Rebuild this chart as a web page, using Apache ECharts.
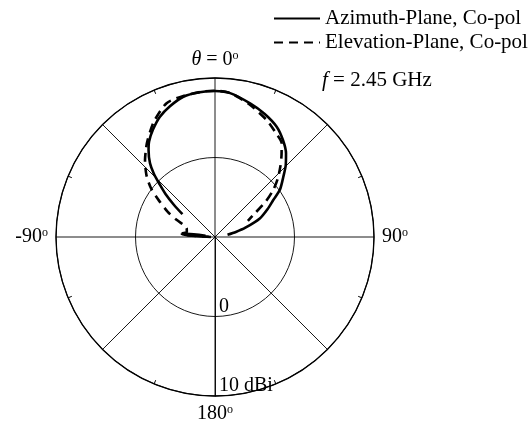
<!DOCTYPE html>
<html><head><meta charset="utf-8">
<script src="https://cdn.jsdelivr.net/npm/echarts@6/dist/echarts.min.js"></script>
<style>html,body{margin:0;padding:0;background:#fff}#c{width:531px;height:421px}</style>
</head><body><div id="c"></div>
<script>
// ---- data (angle in degrees, gain in dBi; null = no trace drawn) ----
const seriesNames = ['Azimuth-Plane, Co-pol', 'Elevation-Plane, Co-pol'];
const azTheta = [-88, -86.5, -85, -83.5, -82, -70, -55, -52, -49, -46.5, -44, -41.4, -37.4, -34.6, -30, -24.6, -19, -12.7, -6, 0, 6, 14.7, 22, 29.2, 35, 40.3, 44.5, 48.6, 54, 57.6, 62, 67.5, 73, 76.5, 80];
const azGain  = [-9.2, -6.6, -5.8, -6.4, -8.8, null, -5.0, -3.46, -1.75, -0.44, 1.07, 2.36, 3.76, 4.6, 5.6, 6.64, 7.4, 8.09, 8.3, 8.36, 8.2, 7.38, 6.7, 5.9, 4.9, 3.81, 2.7, 1.46, 0.09, -1.32, -2.5, -3.9, -6.0, -7.3, -8.4];
const elTheta = [-89, -87, -85.5, -84, -80, -74, -70, -66, -62, -57, -52.8, -48, -42.3, -38, -34.8, -28, -19.9, -12, -5, 0, 6, 14, 23.8, 30, 35.4, 39, 42.8, 47, 51.1, 55, 60.1, 64];
const elGain  = [-9.5, -7.6, -6.0, -5.8, -6.4, -6.3, -6.0, -4.7, -3.27, -1.6, 0.09, 1.6, 3.08, 4.1, 4.85, 6.4, 7.9, 8.2, 8.35, 8.4, 8.2, 7.3, 6.09, 5.2, 4.47, 3.3, 2.1, 0.8, -0.6, -2.2, -4.44, -5.4];
const angleTickLabels = {'-180': '180', '-90': '-90', '0': '0', '90': '90'};
const radiusTickLabels = {'0': '0', '10': '10 dBi'};
const radiusMin = -10, radiusMax = 10, radiusStep = 10;
const freqText = '2.45 GHz';

const FONT = "'Liberation Serif', 'Times New Roman', serif";
function toPolar(theta, gain) {
  return theta.map((t, i) => [gain[i] === null ? '-' : gain[i], t]);
}
const chart = echarts.init(document.getElementById('c'), null, {renderer: 'canvas'});
const richBase = {
  i: {fontStyle: 'italic', fontFamily: FONT, fontSize: 20, color: '#000'},
  s: {fontFamily: FONT, fontSize: 12, color: '#000', verticalAlign: 'top'}
};
chart.setOption({
  backgroundColor: '#fff',
  animation: false,
  polar: {center: [215, 237], radius: [0, 159]},
  angleAxis: {
    type: 'value', min: -180, max: 180, interval: 45, startAngle: 270, clockwise: true,
    axisLine: {show: true, lineStyle: {color: '#000', width: 1.3}},
    axisTick: {show: false, inside: true},
    minorTick: {show: true, splitNumber: 2, length: 4, lineStyle: {color: '#000', width: 1}},
    splitLine: {show: true, lineStyle: {color: '#000', width: 0.9}},
    axisLabel: {
      margin: 8, color: '#000', fontFamily: FONT, fontSize: 20,
      formatter: function (v) {
        const t = angleTickLabels[String(v)];
        if (t === undefined) return '';
        return (v === 0 ? '{i|θ} = ' : '') + t + '{s|o}';
      },
      rich: richBase
    }
  },
  radiusAxis: {
    type: 'value', min: radiusMin, max: radiusMax, interval: radiusStep,
    axisLine: {show: true, lineStyle: {color: '#000', width: 0.9}},
    axisTick: {show: false},
    splitLine: {show: true, lineStyle: {color: '#000', width: 0.9}},
    axisLabel: {
      color: '#000', fontFamily: FONT, fontSize: 20, align: 'left', verticalAlign: 'bottom', margin: 4,
      formatter: function (v) { const t = radiusTickLabels[String(v)]; return t === undefined ? '' : t; }
    }
  },
  legend: {
    data: seriesNames, orient: 'vertical', left: 273, top: 8, padding: 0, itemWidth: 46, itemHeight: 14, itemGap: 3,
    itemStyle: {opacity: 0},
    textStyle: {color: '#000', fontFamily: FONT, fontSize: 21}
  },
  graphic: [{
    type: 'text', left: 322, top: 70,
    style: {text: '{i|f} = ' + freqText, fontFamily: FONT, fontSize: 21, fill: '#000',
      rich: {i: {fontStyle: 'italic', fontFamily: FONT, fontSize: 21}}}
  }],
  series: [
    {name: seriesNames[0], type: 'line', coordinateSystem: 'polar', symbol: 'none', showSymbol: false,
     smooth: 0.25, connectNulls: false, data: toPolar(azTheta, azGain),
     lineStyle: {color: '#000', width: 2.6, type: 'solid'}, itemStyle: {color: '#000'}},
    {name: seriesNames[1], type: 'line', coordinateSystem: 'polar', symbol: 'none', showSymbol: false,
     smooth: 0.25, connectNulls: false, data: toPolar(elTheta, elGain),
     lineStyle: {color: '#000', width: 2.6, type: [9, 6]}, itemStyle: {color: '#000'}}
  ]
});
</script>
</body></html>
